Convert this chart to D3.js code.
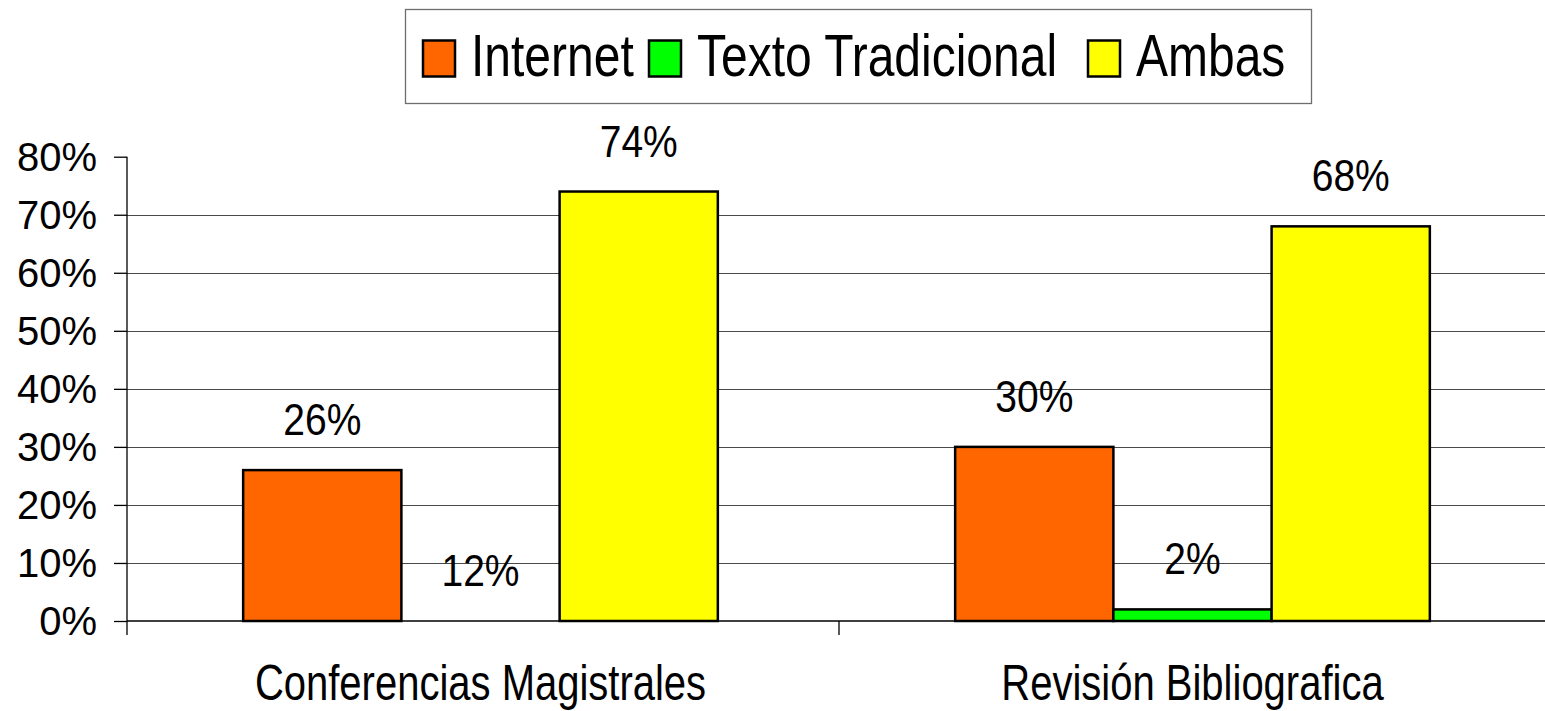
<!DOCTYPE html>
<html>
<head>
<meta charset="utf-8">
<script src="https://cdn.jsdelivr.net/npm/d3@7"></script>
<style>
  html, body { margin: 0; padding: 0; background: #fff; }
  svg { display: block; }
  text { font-family: "Liberation Sans", Arial, sans-serif; fill: #000; }
</style>
</head>
<body>
<svg id="chart" width="1545" height="711"></svg>
<script>
// ---- data ----
const categories = ["Conferencias Magistrales", "Revisión Bibliografica"];
const seriesNames = ["Internet", "Texto Tradicional", "Ambas"];
const seriesColors = ["#FF6600", "#00FF00", "#FFFF00"];
const internetValues = [26, 30];
const textoValues = [0, 2];
const ambasValues = [74, 68];
const internetLabels = ["26%", "30%"];
const textoLabels = ["12%", "2%"];
const ambasLabels = ["74%", "68%"];
const yTicks = [0, 10, 20, 30, 40, 50, 60, 70, 80];

const seriesValues = [internetValues, textoValues, ambasValues];
const seriesLabels = [internetLabels, textoLabels, ambasLabels];

// ---- layout ----
const svg = d3.select("#chart");
const plotLeft = 127, plotRight = 1551, plotTop = 156.7, plotBottom = 621;

const y = d3.scaleLinear().domain([0, 80]).range([plotBottom, plotTop]);
const x0 = d3.scaleBand().domain(categories).range([plotLeft - 2.5, plotRight - 2.5]).paddingInner(0).paddingOuter(0);
const x1 = d3.scaleBand().domain(seriesNames).range([0, x0.bandwidth()]).paddingInner(0).paddingOuter(0.75);

// gridlines (none at the top tick)
svg.append("g").selectAll("line").data(yTicks.filter(d => d > 0 && d < 80)).join("line")
  .attr("x1", plotLeft).attr("x2", 1545)
  .attr("y1", d => Math.round(y(d)) + 0.5).attr("y2", d => Math.round(y(d)) + 0.5)
  .attr("stroke", "#4a4a4a").attr("stroke-width", 1.2);

// y axis
const yAxis = svg.append("g").attr("transform", `translate(${plotLeft},0)`)
  .call(d3.axisLeft(y).tickValues(yTicks).tickFormat(d => d + "%").tickSize(13).tickSizeOuter(0).tickPadding(17));
yAxis.select(".domain").remove();
yAxis.selectAll(".tick line").attr("stroke", "#000").attr("stroke-width", 1.3);
yAxis.selectAll(".tick text").attr("font-size", 40).attr("dy", "0.34em")
  .style("font-family", "'Liberation Sans', Arial, sans-serif").attr("fill", "#000");

// y axis line (extends down to x-axis ticks)
svg.append("line").attr("x1", plotLeft).attr("x2", plotLeft)
  .attr("y1", plotTop).attr("y2", plotBottom + 14)
  .attr("stroke", "#000").attr("stroke-width", 1.3);

// bars
const groups = svg.append("g").selectAll("g").data(categories).join("g")
  .attr("transform", d => `translate(${x0(d)},0)`);

groups.each(function(cat, ci) {
  const g = d3.select(this);
  seriesNames.forEach((s, si) => {
    const v = seriesValues[si][ci];
    if (v > 0) {
      g.append("rect")
        .attr("x", x1(s)).attr("width", x1.bandwidth())
        .attr("y", y(v)).attr("height", y(0) - y(v))
        .attr("fill", seriesColors[si])
        .attr("stroke", "#000").attr("stroke-width", 2.5);
    }
  });
});

// x axis line
svg.append("line").attr("x1", plotLeft).attr("x2", 1545)
  .attr("y1", plotBottom).attr("y2", plotBottom)
  .attr("stroke", "#000").attr("stroke-width", 1.5);
// x axis ticks at category boundaries
svg.append("g").selectAll("line").data(categories.slice(1)).join("line")
  .attr("x1", d => x0(d) + 2.5).attr("x2", d => x0(d) + 2.5)
  .attr("y1", plotBottom).attr("y2", plotBottom + 14)
  .attr("stroke", "#000").attr("stroke-width", 1.3);

// data labels
groups.each(function(cat, ci) {
  const g = d3.select(this);
  seriesNames.forEach((s, si) => {
    const v = seriesValues[si][ci];
    g.append("text")
      .attr("transform", `translate(${x1(s) + x1.bandwidth() / 2},${y(v) - 35}) scale(1,1.16)`)
      .attr("text-anchor", "middle").attr("font-size", 39)
      .text(seriesLabels[si][ci]);
  });
});

// category labels
svg.append("g").selectAll("text").data(categories).join("text")
  .attr("transform", d => `translate(${x0(d) + x0.bandwidth() / 2},700) scale(1,1.25)`)
  .attr("text-anchor", "middle").attr("font-size", 40)
  .text(d => d);

// legend
const legend = svg.append("g");
legend.append("rect")
  .attr("x", 405.5).attr("y", 9.5).attr("width", 906).attr("height", 94)
  .attr("fill", "#fff").attr("stroke", "#6e6e6e").attr("stroke-width", 1.3);
const legendItemX = [423, 649, 1088];
seriesNames.forEach((s, i) => {
  const lx = legendItemX[i];
  legend.append("rect").attr("x", lx).attr("y", 40.5).attr("width", 32).attr("height", 36)
    .attr("fill", seriesColors[i]).attr("stroke", "#000").attr("stroke-width", 2.5);
  legend.append("text")
    .attr("transform", `translate(${lx + 48},76) scale(1,1.24)`)
    .attr("font-size", 48)
    .text(s);
});
</script>
</body>
</html>
